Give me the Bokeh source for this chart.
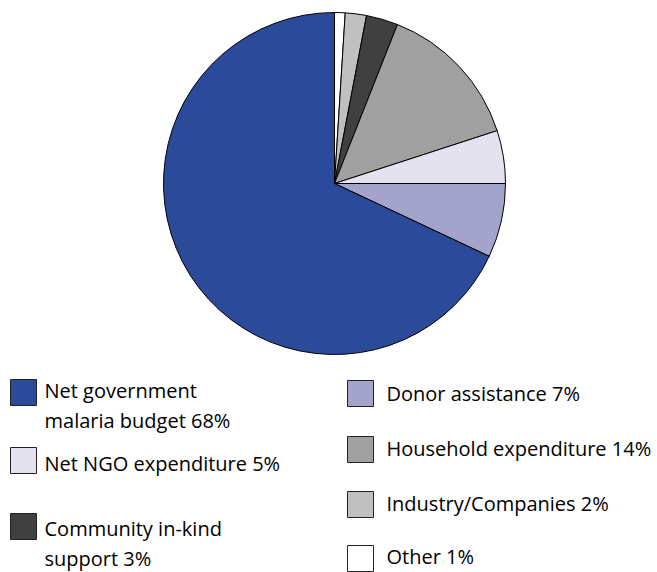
import numpy as np
from bokeh.plotting import figure
from bokeh.models import Range1d, ColumnDataSource
from bokeh.core.properties import value
from bokeh.embed import file_html
from bokeh.resources import INLINE

# Slices in clockwise order starting from 12 o'clock
categories = ["Other", "Industry/Companies", "Community in-kind support",
              "Household expenditure", "Net NGO expenditure", "Donor assistance",
              "Net government malaria budget"]
shares = [1, 2, 3, 14, 5, 7, 68]
colors = ["#FFFFFF", "#C0C0C0", "#404040", "#A0A0A0", "#E4E2EE", "#A3A3CC", "#2B4A99"]

# Legend entries (label text with line breaks as in the original)
legend_left = ["Net government\nmalaria budget 68%", "Net NGO expenditure 5%",
               "Community in-kind\nsupport 3%"]
legend_left_colors = ["#2B4A99", "#E4E2EE", "#404040"]
legend_right = ["Donor assistance 7%", "Household expenditure 14%",
                "Industry/Companies 2%", "Other 1%"]
legend_right_colors = ["#A3A3CC", "#A0A0A0", "#C0C0C0", "#FFFFFF"]

W, H = 657, 572
FONT = "Open Sans"
FS = "20px"

p = figure(width=W, height=H, output_backend="svg", toolbar_location=None,
           x_range=Range1d(0, W), y_range=Range1d(0, H), min_border=0)
p.axis.visible = False
p.grid.visible = False
p.outline_line_color = None
p.background_fill_color = "white"
p.border_fill_color = "white"

# Pie
frac = np.array(shares, dtype=float) / sum(shares)
cum = np.concatenate([[0], np.cumsum(frac)])
start = np.pi / 2 - cum[:-1] * 2 * np.pi
end = np.pi / 2 - cum[1:] * 2 * np.pi
pie_src = ColumnDataSource(dict(start=start, end=end, color=colors, cat=categories))
cx, cy, r = 334, H - 183, 171
p.wedge(x=cx, y=cy, radius=r, start_angle="start", end_angle="end",
        direction="clock", fill_color="color", line_color="black",
        line_width=1, source=pie_src)


def add_legend(labels, cols, sw_x, txt_x, sw_ys, txt_ys, lh=30):
    sx, sy, sc, tx, ty, tt = [], [], [], [], [], []
    for lab, col, swy, t0 in zip(labels, cols, sw_ys, txt_ys):
        sx.append(sw_x)
        sy.append(H - swy)
        sc.append(col)
        for i, line in enumerate(lab.split("\n")):
            tx.append(txt_x)
            ty.append(H - (t0 + i * lh))
            tt.append(line)
    p.rect(x=sx, y=sy, width=26, height=26, fill_color=sc,
           line_color="#222222", line_width=1)
    p.text(x=tx, y=ty, text=tt, text_font=value(FONT), text_font_size=FS,
           text_baseline="middle", text_align="left", text_color="black")


add_legend(legend_left, legend_left_colors, 23, 44,
           [392, 460, 526], [390, 463, 528])
add_legend(legend_right, legend_right_colors, 360, 386,
           [393, 449, 504, 558], [393, 448, 503, 556])

open("out.html", "w").write(file_html(p, INLINE))
